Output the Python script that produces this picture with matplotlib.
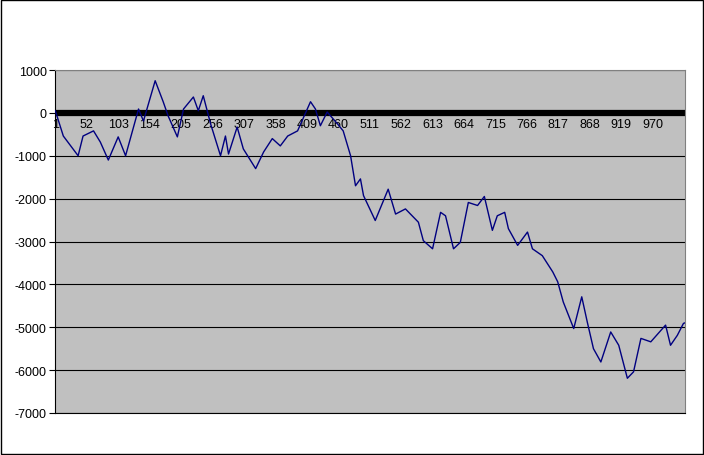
import matplotlib
matplotlib.use("Agg")
import matplotlib.pyplot as plt

idx = [1,14,38,46,63,74,87,103,115,136,144,163,176,184,199,209,225,233,241,253,269,277,282,296,306,326,339,353,366,378,394,415,423,431,442,459,468,480,488,496,501,520,541,553,569,590,598,613,626,634,647,658,671,686,697,710,718,730,736,751,767,775,791,808,816,825,842,855,864,874,886,902,915,929,939,951,967,991,999,1010,1020,1022]
vals = [50,-540,-1000,-540,-420,-680,-1100,-560,-1000,90,-190,750,260,-70,-560,90,370,50,400,-260,-1000,-540,-960,-330,-840,-1300,-910,-600,-770,-540,-420,260,90,-300,20,-260,-420,-1000,-1700,-1540,-1930,-2510,-1780,-2360,-2240,-2550,-2980,-3170,-2320,-2400,-3170,-3020,-2090,-2160,-1950,-2740,-2400,-2320,-2700,-3090,-2780,-3170,-3330,-3710,-3940,-4410,-5030,-4290,-4880,-5500,-5810,-5110,-5420,-6190,-6040,-5260,-5340,-4950,-5420,-5190,-4910,-4900]
xticks = list(range(1, 1000, 51))
yticks = list(range(-7000, 1001, 1000))

plt.rcParams['font.family'] = ['Liberation Sans', 'DejaVu Sans']
fig = plt.figure(figsize=(7.04, 4.56), dpi=100)
fig.patches.append(plt.Rectangle((0.001, 0.002), 0.997, 0.995, transform=fig.transFigure,
                                 fill=False, edgecolor='black', lw=1))
ax = fig.add_axes([55/704, 1-414/456, 630/704, 343/456])
ax.set_facecolor('#C0C0C0')
ax.set_xlim(0.5, 1022.5)
ax.set_ylim(-7000, 1000)
for y in yticks:
    ax.axhline(y, color='black', lw=0.8, zorder=1)
ax.axhline(0, color='black', lw=4.5, zorder=2)
ax.plot(idx, vals, color='#000080', lw=1, zorder=3)
ax.set_yticks(yticks)
ax.set_yticklabels([str(v) for v in yticks], fontsize=9)
ax.set_xticks([])
for t in xticks:
    ax.text(t, -130, str(t), ha='center', va='top', fontsize=9, zorder=2)
for s in ['top', 'right']:
    ax.spines[s].set_color('#808080')
ax.spines['left'].set_color('black')
ax.spines['bottom'].set_color('black')
ax.tick_params(axis='y', length=4, pad=2)
fig.savefig('out.png', dpi=100)
